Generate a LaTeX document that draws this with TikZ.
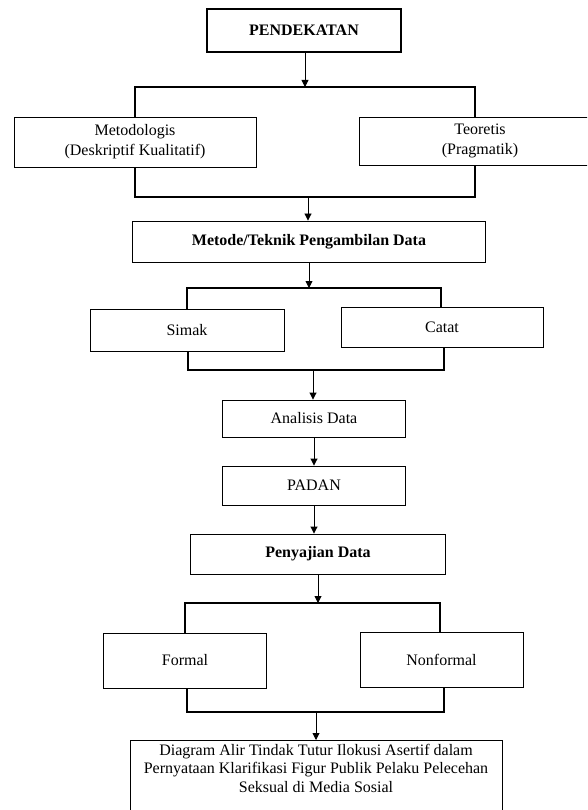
\documentclass[tikz,border=0pt]{standalone}
\usepackage{fontspec}
\setmainfont{Liberation Serif}
\usetikzlibrary{arrows.meta,positioning}

\tikzset{
    kotak/.style={draw, line width=0.9pt, align=center, inner sep=0pt, font=\fontsize{16}{20}\selectfont},
    judul/.style={font=\fontsize{16}{20}\selectfont\bfseries},
    tebal/.style={line width=2.6pt},
    siku/.style={line width=2.4pt},
    panah/.style={line width=0.9pt, -{Triangle[length=7pt,width=7pt]}}
}

\begin{document}
\begin{tikzpicture}[x=1pt, y=-1pt]
    \def\tinggi{41}
    \clip (0,0) rectangle (587,810);
    \fill[white] (0,0) rectangle (587,810);

    % kotak-kotak
    \node[kotak, judul, tebal, minimum width=194, minimum height=43] (pendekatan) at (304,30.5) {PENDEKATAN};
    \node[kotak, minimum width=242, minimum height=50] (metodologis) at (135,142) {Metodologis\\(Deskriptif Kualitatif)};
    \node[kotak, minimum width=242, minimum height=48] (teoretis) at (480,141) {Teoretis\\(Pragmatik)};
    \node[kotak, judul, minimum width=352.6, minimum height=\tinggi] (metode) at (309,241.5) {Metode/Teknik Pengambilan Data};
    \node[kotak, minimum width=194, minimum height=42] (simak) at (187,330) {Simak};
    \node[kotak, minimum width=202, minimum height=40] (catat) at (442,327) {Catat};
    \node[kotak, minimum width=182.5, minimum height=37] (analisis) at (314,418.5) {Analisis Data};
    \node[kotak, minimum width=182.5, minimum height=39] (padan) at (314,485.5) {PADAN};
    \node[kotak, judul, minimum width=255.5, minimum height=40] (penyajian) at (318,554) {Penyajian Data};
    \node[kotak, minimum width=162.6, minimum height=55] (formal) at (185,660.5) {Formal};
    \node[kotak, minimum width=163, minimum height=55] (nonformal) at (441.5,659.5) {Nonformal};
    \node[kotak, minimum width=372, minimum height=100, anchor=north] (hasil) at (316,740) {};
    \node[align=center, inner sep=0pt, font=\fontsize{16}{18.5}\selectfont, below=4pt of hasil.north] (hasilteks)
        {Diagram Alir Tindak Tutur Ilokusi Asertif dalam\\Pernyataan Klarifikasi Figur Publik Pelaku Pelecehan\\Seksual di Media Sosial};

    % titik siku
    \coordinate (s1) at (305,87);
    \coordinate (s2) at (308,197);
    \coordinate (s3) at (309,288);
    \coordinate (s4) at (313,370);
    \coordinate (s5) at (318,603);
    \coordinate (s6) at (316,712);

    % siku
    \draw[siku] (metodologis.north) |- (s1) -| ([xshift=-5pt]teoretis.north);
    \draw[siku] (metodologis.south) |- (s2) -| ([xshift=-5pt]teoretis.south);
    \draw[siku] (simak.north) |- (s3) -| ([xshift=-1pt]catat.north);
    \draw[siku] ([xshift=1pt]simak.south) |- (s4) -| ([xshift=2pt]catat.south);
    \draw[siku] (formal.north) |- (s5) -| ([xshift=-1.5pt]nonformal.north);
    \draw[siku] ([xshift=2pt]formal.south) |- (s6) -| ([xshift=2.5pt]nonformal.south);

    % panah
    \draw[panah] (pendekatan.south -| s1) -- (s1);
    \draw[panah] (s2) -- (s2 |- metode.north);
    \draw[panah] (metode.south) -- (s3);
    \draw[panah] (s4) -- (s4 |- analisis.north);
    \draw[panah] (analisis) -- (padan);
    \draw[panah] (padan.south) -- (padan.south |- penyajian.north);
    \draw[panah] (penyajian.south) -- (s5);
    \draw[panah] (s6) -- (hasil.north);
\end{tikzpicture}
\end{document}
